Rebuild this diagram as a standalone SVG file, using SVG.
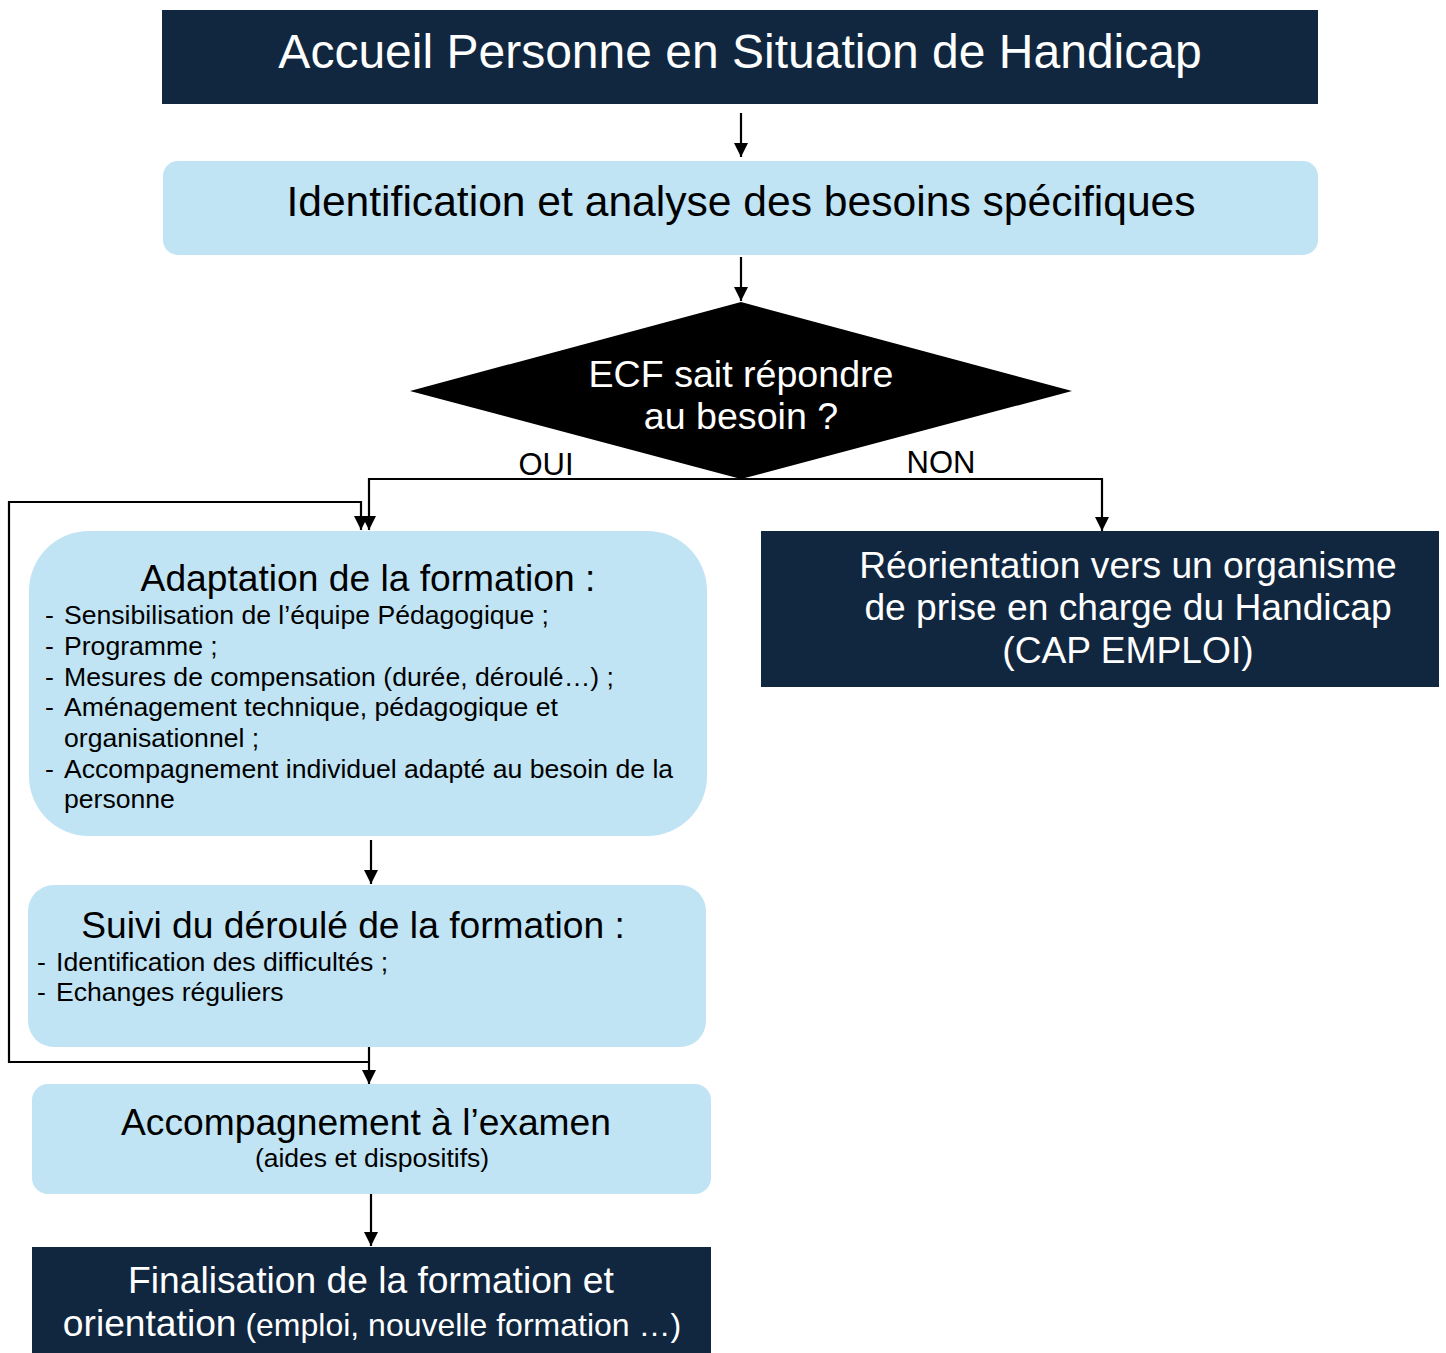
<svg xmlns="http://www.w3.org/2000/svg" width="1446" height="1353" viewBox="0 0 1446 1353">
<defs>
<style>
text{font-family:"Liberation Sans",Arial,sans-serif;}
.dark{fill:#11273f;}
.light{fill:#c0e4f4;}
.wt{fill:#ffffff;}
.bt{fill:#000000;}
.c{text-anchor:middle;}
.ln{fill:none;stroke:#000;stroke-width:2.2;}
</style>
<marker id="arr" markerUnits="userSpaceOnUse" markerWidth="16" markerHeight="14" refX="14" refY="7" orient="auto" viewBox="0 0 14 14">
<path d="M0,0 L14,7 L0,14 Z" fill="#000"/>
</marker>
</defs>

<g id="connectors">
<line class="ln" x1="741" y1="113" x2="741" y2="157" marker-end="url(#arr)"/>
<line class="ln" x1="741" y1="257" x2="741" y2="301" marker-end="url(#arr)"/>
<polyline class="ln" points="741,479 369,479 369,530" marker-end="url(#arr)"/>
<polyline class="ln" points="741,479 1102,479 1102,531" marker-end="url(#arr)"/>
<polyline class="ln" points="369,1062 9,1062 9,502 361,502 361,530" marker-end="url(#arr)"/>
<line class="ln" x1="369" y1="1047" x2="369" y2="1084" marker-end="url(#arr)"/>
<line class="ln" x1="371" y1="840" x2="371" y2="884" marker-end="url(#arr)"/>
<line class="ln" x1="371" y1="1194" x2="371" y2="1246" marker-end="url(#arr)"/>
<text x="546" y="475" class="c bt" font-size="31">OUI</text>
<text x="941" y="473" class="c bt" font-size="31">NON</text>
</g>

<g id="accueil">
<rect class="dark" x="162" y="10" width="1156" height="94"/>
<text x="740" y="68" class="c wt" font-size="48">Accueil Personne en Situation de Handicap</text>
</g>

<g id="identification">
<rect class="light" x="163" y="161" width="1155" height="94" rx="15"/>
<text x="741" y="216" class="c bt" font-size="42.6">Identification et analyse des besoins spécifiques</text>
</g>

<g id="decision">
<polygon fill="#000" points="741,302 1072,391 741,479 410,391"/>
<text x="741" y="387" class="c wt" font-size="37.6">ECF sait répondre</text>
<text x="741" y="429" class="c wt" font-size="37.6">au besoin ?</text>
</g>

<g id="adaptation">
<rect class="light" x="29" y="531" width="678" height="305" rx="60"/>
<text x="368" y="591" class="c bt" font-size="37.2">Adaptation de la formation :</text>
<g class="bt" font-size="26.6">
<text x="45" y="624">-</text><text x="64" y="624">Sensibilisation de l’équipe Pédagogique ;</text>
<text x="45" y="655">-</text><text x="64" y="655">Programme ;</text>
<text x="45" y="686">-</text><text x="64" y="686">Mesures de compensation (durée, déroulé…) ;</text>
<text x="45" y="716">-</text><text x="64" y="716">Aménagement technique, pédagogique et</text>
<text x="64" y="747">organisationnel ;</text>
<text x="45" y="778">-</text><text x="64" y="778">Accompagnement individuel adapté au besoin de la</text>
<text x="64" y="808">personne</text>
</g>
</g>

<g id="reorientation">
<rect class="dark" x="761" y="531" width="678" height="156"/>
<text x="1128" y="578" class="c wt" font-size="37.2">Réorientation vers un organisme</text>
<text x="1128" y="620" class="c wt" font-size="37.2">de prise en charge du Handicap</text>
<text x="1128" y="663" class="c wt" font-size="37.2">(CAP EMPLOI)</text>
</g>

<g id="suivi">
<rect class="light" x="28" y="885" width="678" height="162" rx="26"/>
<text x="353" y="938" class="c bt" font-size="37.2">Suivi du déroulé de la formation :</text>
<g class="bt" font-size="26.6">
<text x="37" y="971">-</text><text x="56" y="971">Identification des difficultés ;</text>
<text x="37" y="1001">-</text><text x="56" y="1001">Echanges réguliers</text>
</g>
</g>

<g id="examen">
<rect class="light" x="32" y="1084" width="679" height="110" rx="16"/>
<text x="366" y="1135" class="c bt" font-size="37.2">Accompagnement à l’examen</text>
<text x="372" y="1167" class="c bt" font-size="26.5">(aides et dispositifs)</text>
</g>

<g id="finalisation">
<rect class="dark" x="32" y="1247" width="679" height="106"/>
<text x="371" y="1293" class="c wt" font-size="37.2">Finalisation de la formation et</text>
<text x="372" y="1336" class="c wt" font-size="37.2">orientation<tspan font-size="32">  (emploi, nouvelle formation …)</tspan></text>
</g>
</svg>
